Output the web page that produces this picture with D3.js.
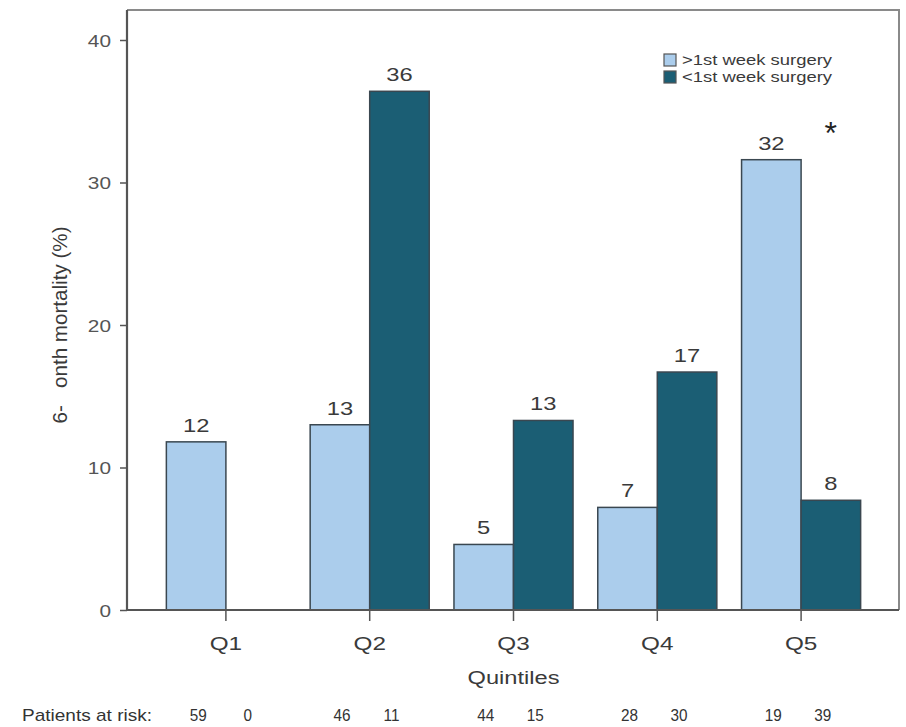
<!DOCTYPE html>
<html>
<head>
<meta charset="utf-8">
<script src="https://cdn.jsdelivr.net/npm/d3@7"></script>
<style>
  html, body { margin: 0; padding: 0; background: #fff; }
  svg { display: block; font-family: "Liberation Sans", Arial, sans-serif; }
</style>
</head>
<body>
<svg id="chart" width="906" height="727"></svg>
<script>
// Six-month mortality by quintile, split by timing of surgery
const quintiles = ["Q1", "Q2", "Q3", "Q4", "Q5"];
const seriesNames = [">1st week surgery", "<1st week surgery"];
const lateSurgery = [11.8, 13.0, 4.6, 7.2, 31.6];      // % mortality, >1st week
const earlySurgery = [null, 36.4, 13.3, 16.7, 7.7];    // % mortality, <1st week
const atRiskLate = [59, 46, 44, 28, 19];
const atRiskEarly = [0, 11, 15, 30, 39];
const yTicks = [0, 10, 20, 30, 40];
const colors = ["#abcdec", "#1b5e74"];

const svg = d3.select("#chart");
const frame = { left: 127, top: 10, right: 899, bottom: 610 };

const y = d3.scaleLinear().domain([0, 40]).range([frame.bottom, 40]);
const x = d3.scaleBand().domain(quintiles).range([154, 873])
  .paddingInner(0.172).paddingOuter(0.086);
const xSub = d3.scaleBand().domain([0, 1]).range([0, x.bandwidth()]);

// place a text at (px, py) with a horizontal glyph stretch
const placeWide = (px, py, sx) => `translate(${px},${py}) scale(${sx},1)`;

const rows = quintiles.map((q, i) => ({
  q,
  bars: [
    { s: 0, v: lateSurgery[i] },
    { s: 1, v: earlySurgery[i] }
  ].filter(d => d.v != null)
}));

// plot frame (top and right edges)
svg.append("path")
  .attr("d", `M${frame.left},${frame.top}H${frame.right}V${frame.bottom}`)
  .attr("fill", "none").attr("stroke", "#8a8a8a").attr("stroke-width", 2);

// bars
const groups = svg.append("g").selectAll("g").data(rows).join("g")
  .attr("transform", d => `translate(${x(d.q)},0)`);

groups.selectAll("rect").data(d => d.bars).join("rect")
  .attr("x", d => xSub(d.s))
  .attr("y", d => y(d.v))
  .attr("width", xSub.bandwidth())
  .attr("height", d => y(0) - y(d.v))
  .attr("fill", d => colors[d.s])
  .attr("stroke", "#3a4750").attr("stroke-width", 1.5);

const fmt = d3.format(".0f");
groups.selectAll("text.val").data(d => d.bars).join("text")
  .attr("class", "val")
  .attr("transform", d => placeWide(xSub(d.s) + xSub.bandwidth() / 2, y(d.v) - 10, 1.25))
  .attr("text-anchor", "middle")
  .attr("font-size", 19).attr("fill", "#3a3a3a")
  .text(d => fmt(d.v));

// axes
const yAxis = svg.append("g").attr("transform", `translate(${frame.left},0)`)
  .call(d3.axisLeft(y).tickValues(yTicks).tickSize(7).tickPadding(7));
yAxis.select(".domain").attr("d", `M0,${frame.top}V${frame.bottom}`)
  .attr("stroke", "#555").attr("stroke-width", 2.2);
yAxis.selectAll(".tick line").attr("stroke", "#555").attr("stroke-width", 1.5);
yAxis.selectAll(".tick text")
  .attr("x", null).attr("dy", null)
  .attr("transform", "translate(-16,6) scale(1.3,1)")
  .attr("font-size", 16).attr("fill", "#555")
  .attr("font-family", "Liberation Sans, Arial, sans-serif");

const xAxis = svg.append("g").attr("transform", `translate(0,${frame.bottom})`)
  .call(d3.axisBottom(x).tickSize(11).tickPadding(11));
xAxis.select(".domain").attr("d", `M${frame.left},0H${frame.right}`)
  .attr("stroke", "#555").attr("stroke-width", 2.2);
xAxis.selectAll(".tick line").attr("stroke", "#555").attr("stroke-width", 1.5);
xAxis.selectAll(".tick text")
  .attr("y", null).attr("dy", null)
  .attr("transform", "translate(0,40) scale(1.35,1)")
  .attr("font-size", 18).attr("fill", "#3a3a3a")
  .attr("font-family", "Liberation Sans, Arial, sans-serif");

// axis titles
svg.append("text")
  .attr("transform", `translate(67,${y(20)}) rotate(-90)`)
  .attr("text-anchor", "middle").attr("font-size", 20).attr("fill", "#3a3a3a")
  .attr("textLength", 197).attr("lengthAdjust", "spacingAndGlyphs")
  .style("white-space", "pre")
  .text("6-   onth mortality (%)");

svg.append("text")
  .attr("x", (x.range()[0] + x.range()[1]) / 2).attr("y", 684)
  .attr("text-anchor", "middle").attr("font-size", 18).attr("fill", "#3a3a3a")
  .attr("textLength", 92).attr("lengthAdjust", "spacingAndGlyphs")
  .text("Quintiles");

// patients at risk row
const riskY = 721;
svg.append("text")
  .attr("x", 22).attr("y", riskY)
  .attr("font-size", 17).attr("fill", "#333")
  .attr("textLength", 130).attr("lengthAdjust", "spacingAndGlyphs")
  .text("Patients at risk:");

const riskRows = quintiles.flatMap((q, i) => [
  { q, s: 0, n: atRiskLate[i] },
  { q, s: 1, n: atRiskEarly[i] }
]);
svg.append("g").selectAll("text").data(riskRows).join("text")
  .attr("transform", d => placeWide(
    x(d.q) + xSub(d.s) + xSub.bandwidth() / 2 + (d.s === 0 ? 2 : -8), riskY, 0.9))
  .attr("text-anchor", "middle").attr("font-size", 17).attr("fill", "#333")
  .text(d => d.n);

// legend
const legend = svg.append("g").attr("transform", "translate(664,54)");
const li = legend.selectAll("g").data(seriesNames).join("g")
  .attr("transform", (d, i) => `translate(0,${i * 17})`);
li.append("rect").attr("width", 12).attr("height", 12)
  .attr("fill", (d, i) => colors[i]).attr("stroke", "#555").attr("stroke-width", 1.2);
li.append("text").attr("x", 18).attr("y", 11)
  .attr("font-size", 14).attr("fill", "#3a3a3a")
  .attr("textLength", 150).attr("lengthAdjust", "spacingAndGlyphs")
  .text(d => d);

// significance marker on Q5
svg.append("text")
  .attr("x", x("Q5") + x.bandwidth() - 30).attr("y", 144)
  .attr("text-anchor", "middle").attr("font-size", 32).attr("fill", "#222")
  .text("*");
</script>
</body>
</html>
